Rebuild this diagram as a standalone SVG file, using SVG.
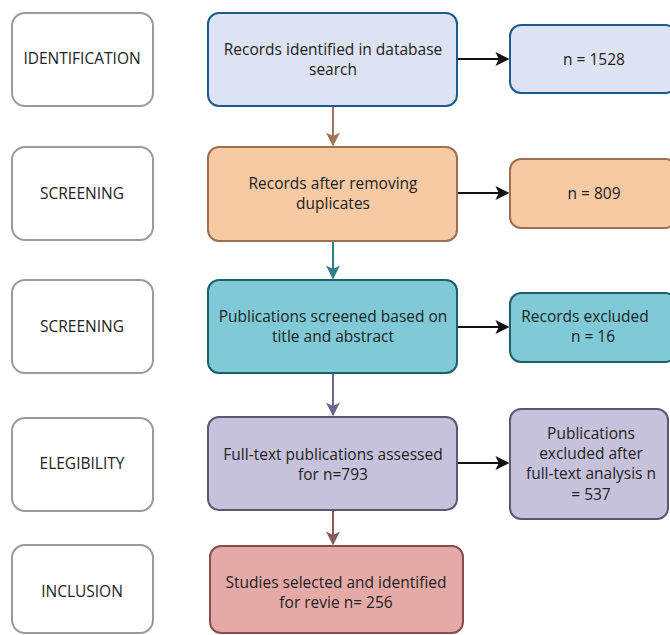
<svg xmlns="http://www.w3.org/2000/svg" width="670" height="635" viewBox="0 0 670 635">
  <defs>
    <style>
      text { font-family: "Open Sans", "Noto Sans", "DejaVu Sans", sans-serif; font-size: 15.5px; fill: #222222; text-anchor: middle; }
      .stage rect { fill: #ffffff; stroke: #9a9a9a; stroke-width: 2; }
      .box { stroke-width: 2; }
      .link { fill: none; stroke-width: 2; }
    </style>
    <marker id="ahBlack" viewBox="0 0 10 10" refX="9" refY="5" markerWidth="14" markerHeight="14" markerUnits="userSpaceOnUse" orient="auto">
      <path d="M0,0 L10,5 L0,10 L2.5,5 Z" fill="#111"/>
    </marker>
    <marker id="ahBrown" viewBox="0 0 10 10" refX="9" refY="5" markerWidth="14" markerHeight="14" markerUnits="userSpaceOnUse" orient="auto">
      <path d="M0,0 L10,5 L0,10 L2.5,5 Z" fill="#a0735a"/>
    </marker>
    <marker id="ahTeal" viewBox="0 0 10 10" refX="9" refY="5" markerWidth="14" markerHeight="14" markerUnits="userSpaceOnUse" orient="auto">
      <path d="M0,0 L10,5 L0,10 L2.5,5 Z" fill="#2f7e8a"/>
    </marker>
    <marker id="ahPurple" viewBox="0 0 10 10" refX="9" refY="5" markerWidth="14" markerHeight="14" markerUnits="userSpaceOnUse" orient="auto">
      <path d="M0,0 L10,5 L0,10 L2.5,5 Z" fill="#6c6690"/>
    </marker>
    <marker id="ahRose" viewBox="0 0 10 10" refX="9" refY="5" markerWidth="14" markerHeight="14" markerUnits="userSpaceOnUse" orient="auto">
      <path d="M0,0 L10,5 L0,10 L2.5,5 Z" fill="#8a5c58"/>
    </marker>
  </defs>

  <rect width="670" height="635" fill="#ffffff"/>

  <!-- stage labels -->
  <g id="stage-identification" class="stage">
    <rect x="12" y="13" width="141" height="93" rx="13"/>
    <text x="82" y="64">IDENTIFICATION</text>
  </g>
  <g id="stage-screening-1" class="stage">
    <rect x="12" y="147" width="141" height="93" rx="13"/>
    <text x="82" y="199">SCREENING</text>
  </g>
  <g id="stage-screening-2" class="stage">
    <rect x="12" y="280" width="141" height="93" rx="13"/>
    <text x="82" y="332">SCREENING</text>
  </g>
  <g id="stage-eligibility" class="stage">
    <rect x="12" y="418" width="141" height="93" rx="13"/>
    <text x="82" y="469">ELEGIBILITY</text>
  </g>
  <g id="stage-inclusion" class="stage">
    <rect x="12" y="545" width="141" height="88" rx="13"/>
    <text x="82" y="597">INCLUSION</text>
  </g>

  <!-- main flow -->
  <g id="identified">
    <rect class="box" x="208" y="13" width="249" height="93" rx="11" fill="#dde3f3" stroke="#1c5a8c"/>
    <text x="333" y="55">Records identified in database</text>
    <text x="333" y="75">search</text>
  </g>
  <g id="deduplicated">
    <rect class="box" x="208" y="147" width="249" height="94" rx="11" fill="#f8caa4" stroke="#9c6e52"/>
    <text x="333" y="189">Records after removing</text>
    <text x="333" y="209">duplicates</text>
  </g>
  <g id="screened">
    <rect class="box" x="208" y="280" width="249" height="93" rx="11" fill="#7fcad6" stroke="#1f5f69"/>
    <text x="333" y="322">Publications screened based on</text>
    <text x="333" y="342">title and abstract</text>
  </g>
  <g id="assessed">
    <rect class="box" x="208" y="417" width="249" height="93" rx="11" fill="#c7c2dc" stroke="#5c5874"/>
    <text x="333" y="460">Full-text publications assessed</text>
    <text x="333" y="480">for n=793</text>
  </g>
  <g id="included">
    <rect class="box" x="210" y="546" width="253" height="87" rx="11" fill="#e5aaa7" stroke="#8a4c4c"/>
    <text x="336" y="588">Studies selected and identified</text>
    <text x="336" y="608">for revie n= 256</text>
  </g>

  <!-- counts -->
  <g id="count-identified">
    <rect class="box" x="510" y="25" width="166" height="68" rx="11" fill="#dde3f3" stroke="#1c5a8c"/>
    <text x="594" y="65">n = 1528</text>
  </g>
  <g id="count-deduplicated">
    <rect class="box" x="510" y="159" width="166" height="69" rx="11" fill="#f8caa4" stroke="#9c6e52"/>
    <text x="594" y="199">n = 809</text>
  </g>
  <g id="count-excluded">
    <rect class="box" x="510" y="293" width="166" height="69" rx="11" fill="#7fcad6" stroke="#1f5f69"/>
    <text x="585" y="322">Records excluded</text>
    <text x="593" y="342">n = 16</text>
  </g>
  <g id="count-fulltext-excluded">
    <rect class="box" x="510" y="409" width="158" height="110" rx="11" fill="#c7c2dc" stroke="#5c5874"/>
    <text x="591" y="439">Publications</text>
    <text x="591" y="459">excluded after</text>
    <text x="591" y="479">full-text analysis n</text>
    <text x="591" y="500">= 537</text>
  </g>

  <!-- connectors -->
  <g id="connectors">
    <line class="link" x1="333" y1="107" x2="333" y2="145" stroke="#a0735a" marker-end="url(#ahBrown)"/>
    <line class="link" x1="333" y1="242" x2="333" y2="278" stroke="#2f7e8a" marker-end="url(#ahTeal)"/>
    <line class="link" x1="333" y1="374" x2="333" y2="415" stroke="#6c6690" marker-end="url(#ahPurple)"/>
    <line class="link" x1="333" y1="511" x2="333" y2="544" stroke="#8a5c58" marker-end="url(#ahRose)"/>
    <line class="link" x1="458" y1="59" x2="508" y2="59" stroke="#111" marker-end="url(#ahBlack)"/>
    <line class="link" x1="458" y1="193" x2="508" y2="193" stroke="#111" marker-end="url(#ahBlack)"/>
    <line class="link" x1="458" y1="327" x2="508" y2="327" stroke="#111" marker-end="url(#ahBlack)"/>
    <line class="link" x1="458" y1="463" x2="508" y2="463" stroke="#111" marker-end="url(#ahBlack)"/>
  </g>
</svg>
